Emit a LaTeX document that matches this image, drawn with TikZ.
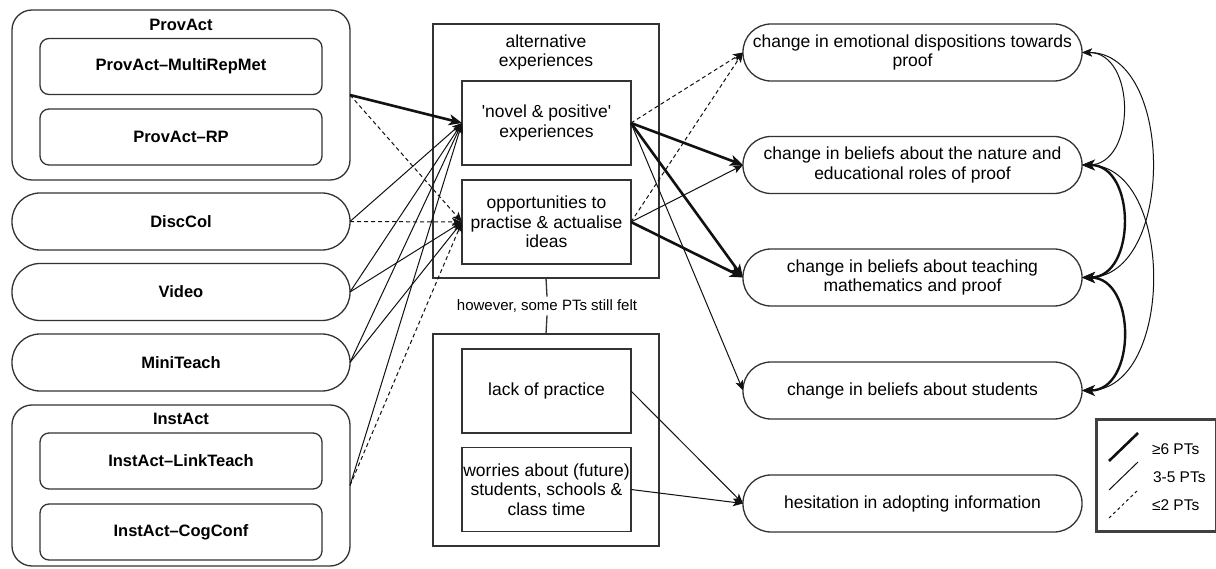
\documentclass[tikz,border=0pt]{standalone}
\usepackage{fontspec}
\setmainfont{Liberation Sans}
% plain family: keeps straight quotes as typed
\newfontfamily\lsans{Liberation Sans}
\usetikzlibrary{arrows.meta}
\definecolor{boxink}{HTML}{333333}
\definecolor{edgeink}{HTML}{111111}
\begin{document}
\begin{tikzpicture}[x=1pt,y=-1pt,
  every node/.style={inner sep=0pt, outer sep=0pt},
  rtxt/.style={font=\lsans\fontsize{17.5}{19.5}\selectfont, align=center},
  btxt/.style={font=\lsans\fontsize{16.5}{19}\selectfont\bfseries, align=center},
  frame/.style={draw=boxink, line width=1.3pt, rounded corners=20pt, minimum width=338pt},
  item/.style={draw=boxink, line width=1.3pt, fill=white, rounded corners=9pt, minimum width=282pt, minimum height=56pt, btxt},
  pill/.style={draw=boxink, line width=1.3pt, fill=white, rounded corners=28pt, minimum width=338pt, minimum height=57pt, btxt},
  square/.style={draw=boxink, line width=1.3pt, fill=white, minimum width=169pt, minimum height=84pt, rtxt},
  holder/.style={draw=boxink, line width=1.3pt, minimum width=226pt},
  effect/.style={draw=boxink, line width=1.3pt, fill=white, rounded corners=28pt, minimum width=339pt, minimum height=57pt, rtxt},
  tipS/.tip={Stealth[length=10pt,width=8pt,inset=2.5pt]},
  tipL/.tip={Stealth[length=13pt,width=11pt,inset=3.5pt]},
  weak/.style={draw=edgeink, line width=1pt, dash pattern=on 4pt off 3pt, -tipS},
  mid/.style={draw=edgeink, line width=1pt, -tipS},
  strong/.style={draw=edgeink, line width=2.6pt, -tipL},
  midboth/.style={draw=edgeink, line width=1pt, tipS-tipS},
  strongboth/.style={draw=edgeink, line width=2.4pt, tipL-tipL},
  keytxt/.style={anchor=west, font=\lsans\fontsize{15.5}{18}\selectfont},
]
\fill[white] (0,0) rectangle (1216,569);
\useasboundingbox (0,0) rectangle (1216,569);

% ---- activities (left column)
\node[frame, minimum height=170pt] (provact) at (181,95) {};
\node[btxt] (provactlbl) at (181,25) {ProvAct};
\node[item] (multirep) at (181,66.5) {ProvAct–MultiRepMet};
\node[item] (rp) at (181,137) {ProvAct–RP};
\node[pill] (disccol) at (181,221.5) {DiscCol};
\node[pill] (video) at (181,292) {Video};
\node[pill] (miniteach) at (181,362.5) {MiniTeach};
\node[frame, minimum height=161pt] (instact) at (181,485.5) {};
\node[btxt] (instactlbl) at (181,419) {InstAct};
\node[item] (linkteach) at (181,461) {InstAct–LinkTeach};
\node[item] (cogconf) at (181,532) {InstAct–CogConf};

% ---- experiences (middle column)
\node[holder, minimum height=254pt] (alt) at (546,151) {};
\node[rtxt] (altlbl) at (546,52.5) {alternative\\experiences};
\node[square] (novel) at (546.5,123) {'novel \& positive'\\experiences};
\node[square] (opp) at (546.5,222) {opportunities to\\practise \& actualise\\ideas};
\node[font=\lsans\fontsize{15}{17}\selectfont, inner sep=3pt] (however) at (547,306) {however, some PTs still felt};
\node[holder, minimum height=212pt] (felt) at (546,440) {};
\node[square] (lack) at (546.5,391) {lack of practice};
\node[square] (worries) at (546.5,489.5) {worries about (future)\\students, schools \&\\class time};
\draw[boxink, line width=1.3pt] (alt.south) -- (however.north);
\draw[boxink, line width=1.3pt] (however.south) -- (felt.north);

% ---- outcomes (right column)
\node[effect] (emo) at (912.5,52.5) {change in emotional dispositions towards\\proof};
\node[effect] (nat) at (912.5,165) {change in beliefs about the nature and\\educational roles of proof};
\node[effect] (teach) at (912.5,277.5) {change in beliefs about teaching\\mathematics and proof};
\node[effect] (stud) at (912.5,390.5) {change in beliefs about students};
\node[effect] (hes) at (912.5,503.5) {hesitation in adopting information};

% ---- activities -> experiences
\draw[strong] (provact.east) -- (novel.west);
\draw[weak] (provact.east) -- (opp.west);
\draw[mid] (disccol.east) -- (novel.west);
\draw[weak] (disccol.east) -- (opp.west);
\draw[mid] (video.east) -- (novel.west);
\draw[mid] (video.east) -- (opp.west);
\draw[mid] (miniteach.east) -- (novel.west);
\draw[mid] (miniteach.east) -- (opp.west);
\draw[mid] (instact.east) -- (novel.west);
\draw[weak] (instact.east) -- (opp.west);

% ---- experiences -> outcomes
\draw[weak] (novel.east) -- (emo.west);
\draw[strong] (novel.east) -- (nat.west);
\draw[strong] (novel.east) -- (teach.west);
\draw[mid] (novel.east) -- (stud.west);
\draw[weak] (opp.east) -- (emo.west);
\draw[mid] (opp.east) -- (nat.west);
\draw[strong] (opp.east) -- (teach.west);
\draw[mid] (lack.east) -- (hes.west);
\draw[mid] (worries.east) -- (hes.west);

% ---- links among outcomes
\draw[midboth] (emo.east) to[out=0,in=0,looseness=1.24] (nat.east);
\draw[strongboth] (nat.east) to[out=0,in=0,looseness=1.24] (teach.east);
\draw[strongboth] (teach.east) to[out=0,in=0,looseness=1.24] (stud.east);
\draw[midboth] (emo.east) to[out=0,in=0,looseness=1.06] (teach.east);
\draw[midboth] (nat.east) to[out=0,in=0,looseness=1.06] (stud.east);

% ---- key
\node[draw=black!75, line width=3pt, minimum width=120pt, minimum height=112pt] (legend) at (1156,475.5) {};
\coordinate (k1a) at (1109,461); \coordinate (k1b) at (1138,433);
\coordinate (k2a) at (1109,490); \coordinate (k2b) at (1138,462);
\coordinate (k3a) at (1109,518); \coordinate (k3b) at (1138,490);
\draw[edgeink, line width=2.6pt] (k1a) -- (k1b);
\draw[edgeink, line width=1pt] (k2a) -- (k2b);
\draw[edgeink, line width=1pt, dash pattern=on 3pt off 3pt] (k3a) -- (k3b);
\node[keytxt] (k1t) at (1152,449) {≥6 PTs};
\node[keytxt] (k2t) at (1153,477) {3-5 PTs};
\node[keytxt] (k3t) at (1152,505) {≤2 PTs};
\end{tikzpicture}
\end{document}
